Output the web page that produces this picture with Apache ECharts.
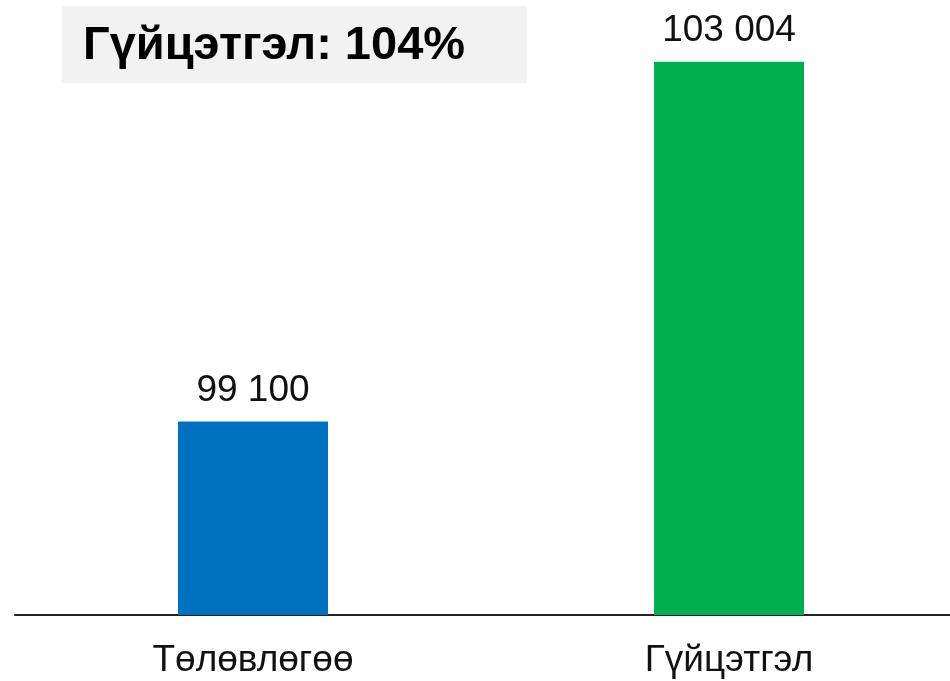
<!DOCTYPE html>
<html>
<head>
<meta charset="utf-8">
<script src="https://cdn.jsdelivr.net/npm/echarts@6/dist/echarts.min.js"></script>
<style>
  html, body { margin: 0; padding: 0; background: #fff; }
  #chart { width: 950px; height: 681px; }
</style>
</head>
<body>
<div id="chart"></div>
<script>
const categories = ['Төлөвлөгөө', 'Гүйцэтгэл'];
const values = [99100, 103004];
const barColors = ['#0070C0', '#00B050'];
const headline = 'Гүйцэтгэл: 104%';

const fontFamily = '"Liberation Sans", Arial, sans-serif';

// 99100 -> "99 100"
const formatNum = v => String(v).replace(/\B(?=(\d{3})+(?!\d))/g, ' ');

const myChart = echarts.init(document.getElementById('chart'));
myChart.setOption({
    animation: false,
    grid: {
        left: 15,
        right: -17, // category slots are 476px wide, so the second one runs past the edge
        top: 16,
        bottom: 66,
        outerBoundsMode: 'none',
        containLabel: false
    },
    xAxis: {
        type: 'category',
        data: categories,
        axisTick: { show: false },
        axisLine: {
            show: true,
            lineStyle: { color: '#222', width: 2 }
        },
        axisLabel: {
            color: '#111',
            fontSize: 37,
            fontFamily,
            margin: 27
        }
    },
    yAxis: {
        type: 'value',
        min: 97000,
        max: 103500,
        show: false,
        splitLine: { show: false }
    },
    series: [{
        type: 'bar',
        barWidth: 150,
        data: values.map((v, i) => ({ value: v, itemStyle: { color: barColors[i] } })),
        label: {
            show: true,
            position: 'top',
            distance: 12,
            color: '#111',
            fontSize: 37,
            fontFamily,
            formatter: p => formatNum(p.value)
        }
    }],
    graphic: [{
        type: 'group',
        left: 62,
        top: 6,
        children: [{
            type: 'rect',
            shape: { x: 0, y: 0, width: 465, height: 77 },
            style: { fill: '#f2f2f2' }
        }, {
            type: 'text',
            x: 21,
            y: 40,
            style: {
                text: headline,
                font: 'bold 47px ' + fontFamily,
                fill: '#000',
                verticalAlign: 'middle'
            }
        }]
    }]
});
</script>
</body>
</html>
